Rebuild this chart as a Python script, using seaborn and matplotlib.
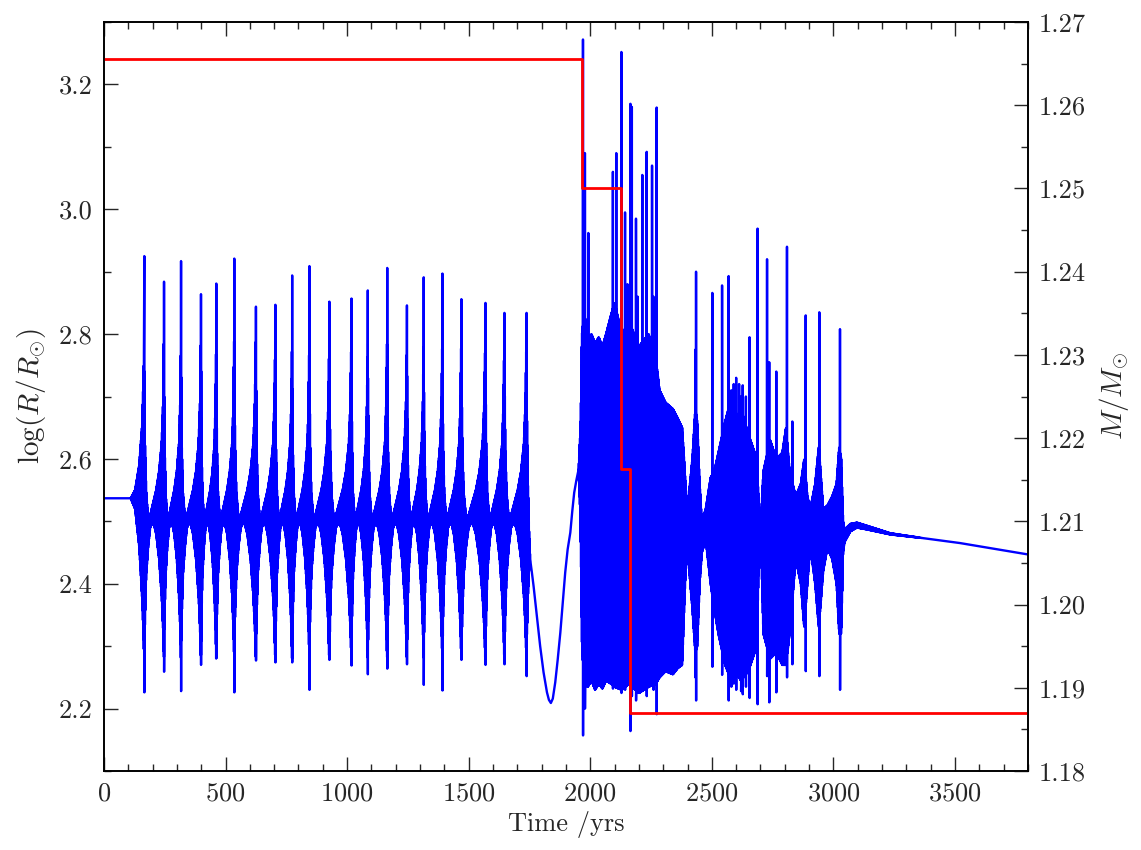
import numpy as np
import pandas as pd
import matplotlib.pyplot as plt
from matplotlib.ticker import MultipleLocator, FormatStrFormatter
import seaborn as sns

sns.set_style('ticks')
plt.rcParams['font.family'] = 'serif'
plt.rcParams['font.serif'] = ['cmr10']
plt.rcParams['font.size'] = 19
plt.rcParams['mathtext.fontset'] = 'cm'
plt.rcParams['axes.unicode_minus'] = False
plt.rcParams['axes.formatter.use_mathtext'] = True

# ---- radius: regular pulsation phase (spike time, spike max, spike min)
pulse_t = [166, 247, 317, 399, 462, 536, 625, 705, 774, 845, 927, 1018, 1085,
           1165, 1246, 1315, 1392, 1470, 1569, 1647, 1738]
pulse_top = [2.925, 2.884, 2.917, 2.864, 2.881, 2.921, 2.844, 2.847, 2.894, 2.909,
             2.852, 2.857, 2.870, 2.906, 2.846, 2.891, 2.897, 2.856, 2.850, 2.834, 2.834]
pulse_bot = [2.226, 2.259, 2.228, 2.270, 2.281, 2.226, 2.277, 2.274, 2.274, 2.230,
             2.278, 2.269, 2.255, 2.264, 2.271, 2.238, 2.229, 2.278, 2.270, 2.271, 2.252]

# envelope of the dense band between two spikes (fraction of the interval)
cycle_frac = [0.01, 0.04, 0.10, 0.20, 0.30, 0.45, 0.60, 0.75, 0.88, 0.95, 0.99]
cycle_up = [2.74, 2.62, 2.545, 2.505, 2.51, 2.53, 2.55, 2.58, 2.625, 2.69, 2.79]
cycle_lo = [2.29, 2.35, 2.415, 2.46, 2.49, 2.50, 2.48, 2.44, 2.38, 2.33, 2.28]

# quiet start and growth into the first pulse
lead_t = [0, 110, 128, 145, 158, 165]
lead_up = [2.537, 2.537, 2.55, 2.59, 2.66, 2.78]
lead_lo = [2.537, 2.537, 2.52, 2.46, 2.37, 2.28]

# decay after the last regular pulse
tail_t = [1739, 1743, 1748, 1753]
tail_up = [2.70, 2.57, 2.49, 2.44]
tail_lo = [2.31, 2.37, 2.42, 2.44]

# smooth dip before the chaotic phase
dip_t = [1753, 1760, 1767, 1780, 1794, 1808, 1822, 1830, 1838, 1846, 1856, 1866,
         1877, 1887, 1897, 1907, 1918, 1926, 1934, 1943, 1952]
dip_r = [2.434, 2.418, 2.396, 2.350, 2.300, 2.258, 2.226, 2.214, 2.209, 2.216, 2.242,
         2.278, 2.322, 2.370, 2.418, 2.455, 2.482, 2.516, 2.546, 2.566, 2.583]

# chaotic phase: band envelope
chaos_t = [1952, 1960, 1966, 1975, 1990, 2005, 2020, 2035, 2050, 2065, 2085, 2100,
           2130, 2160, 2200, 2240, 2270, 2285, 2310, 2340, 2360, 2378, 2392, 2398,
           2405, 2420, 2432, 2440, 2450, 2459, 2475, 2495, 2510, 2527, 2555, 2575,
           2595, 2620, 2650, 2685, 2694, 2702, 2712, 2740, 2765, 2790, 2805, 2820,
           2845, 2866, 2880, 2893, 2905, 2925, 2940, 2958, 2975, 2995, 3013, 3024,
           3032, 3040, 3048]
chaos_up = [2.583, 2.65, 2.80, 2.84, 2.79, 2.80, 2.785, 2.795, 2.78, 2.80, 2.83, 2.85,
            2.80, 2.82, 2.78, 2.80, 2.76, 2.71, 2.69, 2.68, 2.665, 2.65, 2.56, 2.52,
            2.54, 2.60, 2.68, 2.66, 2.56, 2.50, 2.52, 2.57, 2.58, 2.61, 2.66, 2.69,
            2.66, 2.68, 2.64, 2.60, 2.52, 2.50, 2.58, 2.63, 2.60, 2.61, 2.65, 2.58,
            2.54, 2.56, 2.60, 2.54, 2.52, 2.56, 2.62, 2.52, 2.525, 2.54, 2.56, 2.62,
            2.60, 2.50, 2.482]
chaos_lo = [2.583, 2.50, 2.30, 2.24, 2.235, 2.245, 2.23, 2.24, 2.232, 2.245, 2.24, 2.235,
            2.23, 2.24, 2.225, 2.235, 2.24, 2.25, 2.26, 2.255, 2.265, 2.27, 2.42, 2.46,
            2.43, 2.36, 2.29, 2.30, 2.40, 2.45, 2.47, 2.40, 2.36, 2.32, 2.27, 2.25,
            2.26, 2.245, 2.26, 2.30, 2.45, 2.47, 2.32, 2.28, 2.29, 2.27, 2.27, 2.32,
            2.44, 2.40, 2.33, 2.40, 2.46, 2.40, 2.33, 2.42, 2.457, 2.44, 2.40, 2.32,
            2.32, 2.45, 2.474]

# chaotic phase: spikes
spike_t = [1970, 1978, 1992, 2093, 2107, 2128, 2143, 2153, 2165, 2171, 2188, 2195,
           2214, 2232, 2254, 2260, 2273, 2432, 2435, 2502, 2542, 2569, 2580, 2590,
           2600, 2612, 2620, 2627, 2640, 2655, 2688, 2727, 2736, 2765, 2809, 2831,
           2886, 2942, 3027]
spike_top = [3.272, 3.090, 2.962, 3.060, 3.090, 3.252, 2.995, 2.880, 3.169, 3.164,
             2.985, 2.860, 3.055, 3.092, 3.070, 2.860, 3.163, 2.775, 2.900, 2.866,
             2.878, 2.893, 2.710, 2.720, 2.730, 2.720, 2.700, 2.718, 2.700, 2.795,
             2.969, 2.920, 2.755, 2.740, 2.940, 2.660, 2.830, 2.835, 2.808]
spike_bot = [2.157, 2.200, 2.240, 2.232, 2.240, 2.225, 2.230, 2.250, 2.164, 2.220,
             2.213, 2.240, 2.230, 2.220, 2.240, 2.230, 2.191, 2.250, 2.213, 2.267,
             2.254, 2.213, 2.235, 2.240, 2.230, 2.250, 2.228, 2.223, 2.235, 2.217,
             2.207, 2.252, 2.210, 2.226, 2.250, 2.271, 2.260, 2.252, 2.230]

# quiet end phase (mean radius and small ringing amplitude)
post_t = [3048, 3070, 3097, 3138, 3234, 3371, 3509, 3646, 3800]
post_r = [2.478, 2.490, 2.494, 2.490, 2.480, 2.473, 2.466, 2.457, 2.447]
post_amp = [0.010, 0.006, 0.004, 0.003, 0.001, 0.0, 0.0, 0.0, 0.0]

# ---- mass (step function)
mass_t = [0, 1968, 2127, 2164, 3800]
mass = [1.2655, 1.2500, 1.2163, 1.1870, 1.1870]


def zigzag(t_nodes, up_nodes, lo_nodes, dt=0.6):
    # dense oscillation between an upper and a lower envelope
    t = np.arange(t_nodes[0], t_nodes[-1], dt)
    up = np.interp(t, t_nodes, up_nodes)
    lo = np.interp(t, t_nodes, lo_nodes)
    r = np.where(np.arange(len(t)) % 2 == 0, up, lo)
    return t, r


# envelope nodes for the regular phase
reg_t, reg_up, reg_lo = [], [], []
for ta, tb in zip(pulse_t[:-1], pulse_t[1:]):
    for f, u, l in zip(cycle_frac, cycle_up, cycle_lo):
        reg_t.append(ta + f * (tb - ta))
        reg_up.append(u)
        reg_lo.append(l)

pieces = []
pieces.append(zigzag(lead_t, lead_up, lead_lo))
pieces.append(zigzag(reg_t, reg_up, reg_lo))
pieces.append(zigzag(tail_t, tail_up, tail_lo))
pieces.append((np.array(dip_t[1:-1], float), np.array(dip_r[1:-1])))
pieces.append(zigzag(chaos_t, chaos_up, chaos_lo))
post_up = np.array(post_r) + np.array(post_amp)
post_lo = np.array(post_r) - np.array(post_amp)
pieces.append(zigzag(post_t, post_up, post_lo, dt=1.0))
pieces.append((np.array([post_t[-1]], float), np.array([post_r[-1]])))

# spikes: jump to max, then to min
sp_t = list(pulse_t) + list(spike_t)
sp_top = list(pulse_top) + list(spike_top)
sp_bot = list(pulse_bot) + list(spike_bot)
spk_t = np.concatenate([np.array(sp_t) + 0.1, np.array(sp_t) + 0.4])
spk_r = np.concatenate([sp_top, sp_bot])
pieces.append((spk_t, spk_r))

time = np.concatenate([p[0] for p in pieces])
logr = np.concatenate([p[1] for p in pieces])
order = np.argsort(time, kind='stable')
df = pd.DataFrame({'time': time[order], 'logr': logr[order]})

fig = plt.figure(figsize=(11.41, 8.5), dpi=100, facecolor='w')
ax = fig.add_axes([0.0911, 0.0929, 0.8098, 0.8812])

sns.lineplot(data=df, x='time', y='logr', ax=ax, sort=False, estimator=None,
             color='#0000ff', lw=1.7)

ax2 = ax.twinx()
sns.lineplot(x=mass_t, y=mass, ax=ax2, estimator=None, sort=False,
             drawstyle='steps-post', color='#ff0000', lw=2.0)

ax.set_xlim(0, 3800)
ax.set_ylim(2.1, 3.3)
ax2.set_ylim(1.18, 1.27)

ax.xaxis.set_major_locator(MultipleLocator(500))
ax.xaxis.set_minor_locator(MultipleLocator(100))
ax.yaxis.set_major_locator(MultipleLocator(0.2))
ax.yaxis.set_minor_locator(MultipleLocator(0.1))
ax.yaxis.set_major_formatter(FormatStrFormatter('%.1f'))
ax2.yaxis.set_major_locator(MultipleLocator(0.01))
ax2.yaxis.set_minor_locator(MultipleLocator(0.005))
ax2.yaxis.set_major_formatter(FormatStrFormatter('%.2f'))

ax.tick_params(axis='x', which='both', direction='in', top=True, bottom=True, pad=8)
ax.tick_params(axis='y', which='both', direction='in', left=True, right=False, pad=8)
ax2.tick_params(axis='y', which='both', direction='in', right=True, left=False, pad=8)
for a in (ax, ax2):
    a.tick_params(which='major', length=10, width=1.0, labelsize=19)
    a.tick_params(which='minor', length=5, width=1.0)
    for s in a.spines.values():
        s.set_linewidth(1.2)
        s.set_color('black')

ax.set_xlabel('Time /yrs', fontsize=19, labelpad=4)
ax.set_ylabel(r'$\log(R/R_{\odot})$', fontsize=21, labelpad=8)
ax2.set_ylabel(r'$M/M_{\odot}$', fontsize=21, labelpad=8)

plt.savefig('out.png', dpi=100, facecolor='w')
plt.close('all')
